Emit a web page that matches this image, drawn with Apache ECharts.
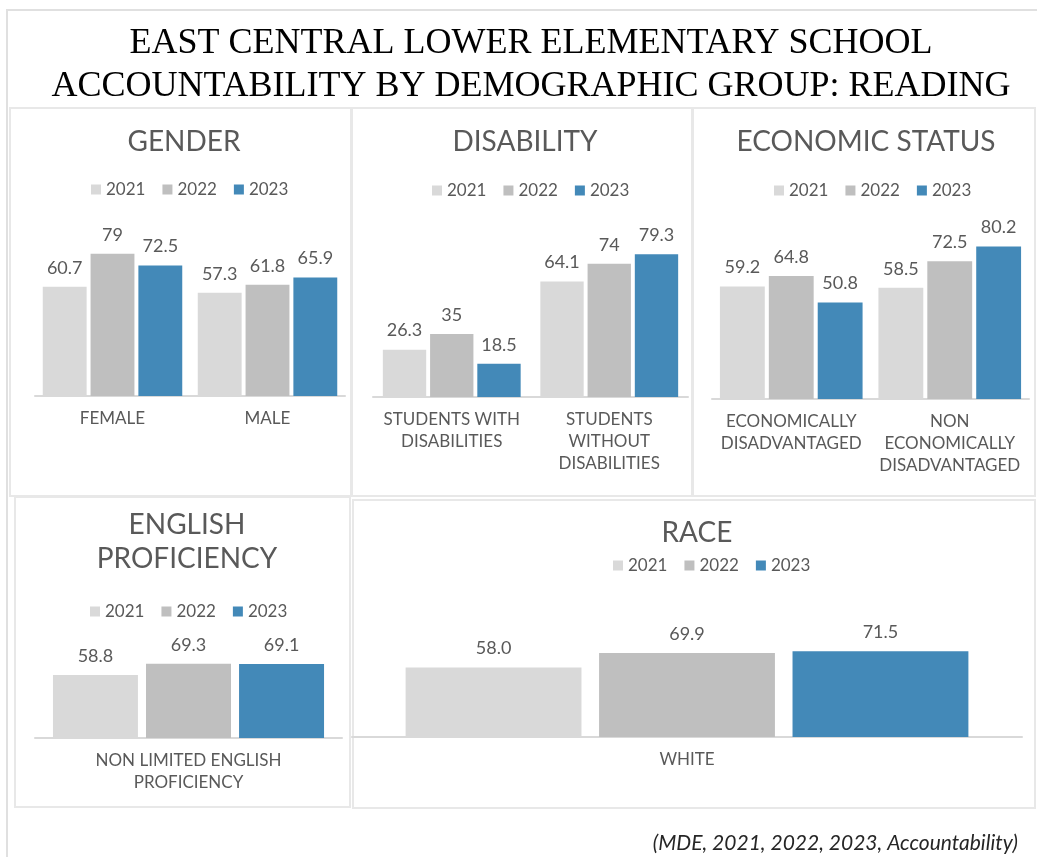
<!DOCTYPE html>
<html>
<head>
<meta charset="utf-8">
<script src="https://cdn.jsdelivr.net/npm/echarts@6/dist/echarts.min.js"></script>
<style>
html,body{margin:0;padding:0;background:#fff;}
#chart{width:1037px;height:857px;}
</style>
</head>
<body>
<div id="chart"></div>
<script>
// ---- data ----
const years = ['2021', '2022', '2023'];
const genderCategories = ['FEMALE', 'MALE'];
const gender2021 = [60.7, 57.3];
const gender2022 = [79, 61.8];
const gender2023 = [72.5, 65.9];

const disabilityCategories = ['STUDENTS WITH\nDISABILITIES', 'STUDENTS\nWITHOUT\nDISABILITIES'];
const disability2021 = [26.3, 64.1];
const disability2022 = [35, 74];
const disability2023 = [18.5, 79.3];

const economicCategories = ['ECONOMICALLY\nDISADVANTAGED', 'NON\nECONOMICALLY\nDISADVANTAGED'];
const economic2021 = [59.2, 58.5];
const economic2022 = [64.8, 72.5];
const economic2023 = [50.8, 80.2];

const englishCategories = ['NON LIMITED ENGLISH\nPROFICIENCY'];
const english2021 = [58.8];
const english2022 = [69.3];
const english2023 = [69.1];

const raceCategories = ['WHITE'];
const race2021 = [58.0];
const race2022 = [69.9];
const race2023 = [71.5];

const mainTitleLines = ['EAST CENTRAL LOWER ELEMENTARY SCHOOL', 'ACCOUNTABILITY BY DEMOGRAPHIC GROUP: READING'];
const sourceNote = '(MDE, 2021, 2022, 2023, Accountability)';

// ---- styling ----
const colors = ['#d9d9d9', '#bfbfbf', '#4389b8'];
const textColor = '#595959';
const fontFam = 'Lato, "Open Sans", sans-serif';
const borderColor = '#e8e8e8';

const panels = [
  {title: 'GENDER', tx: 184, ty: 142, lx: 187, ly: 191,
   grid: {left: 35, top: 216, width: 310, height: 180},
   cats: genderCategories, vals: [gender2021, gender2022, gender2023], catGap: '10%', barGap: '9%', fixed: false},
  {title: 'DISABILITY', tx: 525, ty: 142, lx: 528, ly: 192,
   grid: {left: 373, top: 217, width: 315, height: 180},
   cats: disabilityCategories, vals: [disability2021, disability2022, disability2023], catGap: '12.5%', barGap: '9%', fixed: false},
  {title: 'ECONOMIC STATUS', tx: 866, ty: 142, lx: 870, ly: 192,
   grid: {left: 712, top: 209, width: 317, height: 190},
   cats: economicCategories, vals: [economic2021, economic2022, economic2023], catGap: '10%', barGap: '9%', fixed: false},
  {title: 'ENGLISH\nPROFICIENCY', tx: 187, ty: 542, lx: 186, ly: 613,
   grid: {left: 35, top: 631, width: 307, height: 107},
   cats: englishCategories, vals: [english2021, english2022, english2023], catGap: '11.7%', barGap: '9.5%', fixed: false},
  {title: 'RACE', tx: 697, ty: 533, lx: 709, ly: 567,
   grid: {left: 352, top: 617, width: 670, height: 120},
   cats: raceCategories, vals: [race2021, race2022, race2023], catGap: '16%', barGap: '10%', fixed: true}
];

const borders = [
  [10, 108, 341, 388],
  [352, 108, 340, 388],
  [693, 108, 342, 388],
  [15, 497, 335, 310],
  [353, 500, 682, 308]
];

const option = {
  backgroundColor: '#fff',
  animation: false,
  grid: [], xAxis: [], yAxis: [], series: [], legend: [],
  graphic: []
};

// outer page border
option.graphic.push({type: 'rect', shape: {x: 7, y: 10, width: 1040, height: 860},
  style: {fill: 'none', stroke: '#e0e0e0', lineWidth: 2}, z: -10});
borders.forEach(b => option.graphic.push({type: 'rect', shape: {x: b[0], y: b[1], width: b[2], height: b[3]},
  style: {fill: 'none', stroke: borderColor, lineWidth: 2}, z: -9}));

// main title
mainTitleLines.forEach((t, i) => option.graphic.push({type: 'text', x: 531, y: 44 + i * 43,
  style: {text: t, fill: '#000', font: '36px "Liberation Serif", serif', align: 'center', verticalAlign: 'middle'}}));
// note
option.graphic.push({type: 'text', x: 1018, y: 843,
  style: {text: sourceNote, fill: '#262626', font: 'italic 21px ' + fontFam, align: 'right', verticalAlign: 'middle'}});

panels.forEach((p, i) => {
  option.grid.push(Object.assign({containLabel: false}, p.grid));
  option.xAxis.push({type: 'category', gridIndex: i, data: p.cats,
    axisTick: {show: false},
    axisLine: {lineStyle: {color: '#d9d9d9', width: 2}},
    axisLabel: {color: textColor, fontSize: 17, fontFamily: fontFam, lineHeight: 22, margin: 12, interval: 0}});
  option.yAxis.push({type: 'value', gridIndex: i, min: 0, max: 100, show: false, splitLine: {show: false}});
  option.graphic.push({type: 'text', x: p.tx, y: p.ty,
    style: {text: p.title, fill: textColor, font: '28px ' + fontFam, lineHeight: 34, align: 'center', verticalAlign: 'middle'}});
  option.legend.push({data: years, left: p.lx - 96, top: p.ly - 10, itemWidth: 10, itemHeight: 10, itemGap: 17,
    icon: 'rect', textStyle: {color: textColor, fontSize: 17, fontFamily: fontFam}, padding: 0});
  years.forEach((y, k) => {
    option.series.push({type: 'bar', name: y, xAxisIndex: i, yAxisIndex: i, data: p.vals[k],
      itemStyle: {color: colors[k]},
      barCategoryGap: p.catGap, barGap: p.barGap,
      label: {show: true, position: 'top', distance: 9, color: textColor, fontSize: 18, fontFamily: fontFam, lineHeight: 20,
        formatter: p.fixed ? (d => d.value.toFixed(1)) : '{c}'}});
  });
});

const chart = echarts.init(document.getElementById('chart'), null, {renderer: 'canvas'});
chart.setOption(option);
</script>
</body>
</html>
